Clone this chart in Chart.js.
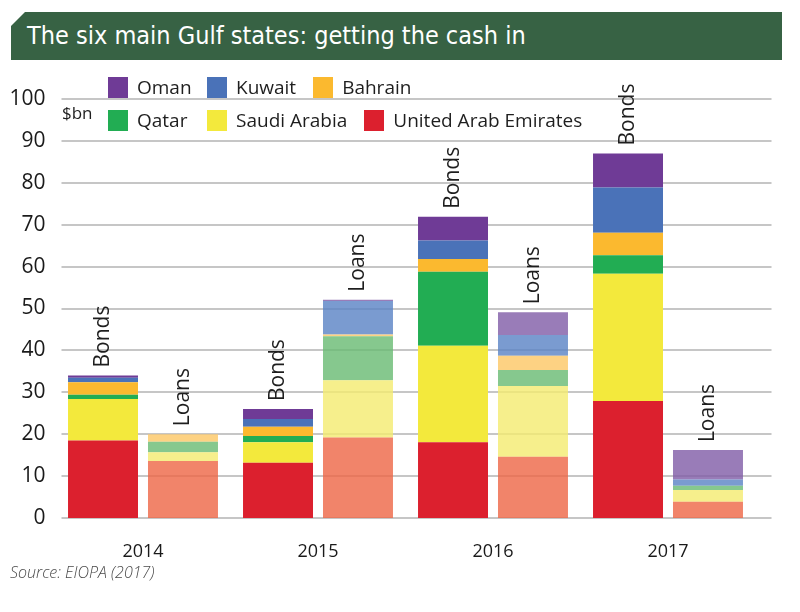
<!DOCTYPE html>
<html>
<head>
<meta charset="utf-8">
<script src="https://cdn.jsdelivr.net/npm/chart.js@4.4.1/dist/chart.umd.min.js"></script>
<style>
body { margin: 0; background: #fff; font-family: "Open Sans", sans-serif; }
#cadre { position: relative; width: 800px; height: 612px; overflow: hidden; }
#graphique { position: absolute; left: 0; top: 0; }
.titre {
    position: absolute; left: 11px; top: 12px; width: 771px; height: 48px;
    background: #376244; color: #fff; box-sizing: border-box; padding-left: 16px;
    clip-path: polygon(14px 0, 100% 0, 100% 100%, 0 100%, 0 14px);
    font-family: "Liberation Sans Narrow", "DejaVu Sans Condensed", sans-serif;
    font-size: 25px; line-height: 48px;
}
.unite { position: absolute; left: 62px; top: 101px; font-size: 17px; color: #1e1e1e; }
.legende { position: absolute; left: 108px; font-size: 19px; color: #1e1e1e; display: flex; }
.legende .item { display: flex; align-items: center; margin-right: 17px; }
.legende .item:first-child { width: 99px; margin-right: 0; }
.legende .carre { width: 20px; height: 21px; margin-right: 9px; }
.source { position: absolute; left: 10px; top: 561px; font-size: 16px; font-style: italic; color: #4a4a4a; font-weight: 300; }
</style>
</head>
<body>
<div id="cadre">
    <canvas id="graphique" width="800" height="612"></canvas>
    <div class="titre">The six main Gulf states: getting the cash in</div>
    <div class="unite">$bn</div>
    <div class="legende" id="ligne1" style="top:74px"></div>
    <div class="legende" id="ligne2" style="top:107px"></div>
    <div class="source">Source: EIOPA (2017)</div>
</div>
<script>
// du bas vers le haut de chaque barre
var annees = ['2014', '2015', '2016', '2017'];
var typesBarres = ['Bonds', 'Loans'];
var pays = ['United Arab Emirates', 'Saudi Arabia', 'Qatar', 'Bahrain', 'Kuwait', 'Oman'];

// $bn, obligations
var bondsEAU = [18.5, 13.2, 18.1, 27.9];
var bondsArabie = [9.9, 4.9, 23.0, 30.4];
var bondsQatar = [1.0, 1.5, 17.7, 4.4];
var bondsBahrein = [3.0, 2.2, 3.0, 5.4];
var bondsKoweit = [1.1, 1.8, 4.4, 10.8];
var bondsOman = [0.5, 2.4, 5.7, 8.1];

// $bn, prets
var loansEAU = [13.6, 19.2, 14.6, 3.9];
var loansArabie = [2.1, 13.7, 16.9, 2.8];
var loansQatar = [2.5, 10.5, 3.8, 1.0];
var loansBahrein = [1.8, 0.4, 3.4, 0];
var loansKoweit = [0, 8.0, 5.0, 1.5];
var loansOman = [0, 0.3, 5.4, 7.0];

var couleursBonds = ['#dc202e', '#f3e93c', '#22ad53', '#fbb92f', '#4a72b8', '#6f3b96'];
var couleursLoans = ['rgba(238,101,69,0.8)', 'rgba(244,235,111,0.8)', 'rgba(104,186,114,0.8)',
                     'rgba(252,199,100,0.8)', 'rgba(89,130,196,0.8)', 'rgba(128,91,166,0.8)'];

var donneesBonds = [bondsEAU, bondsArabie, bondsQatar, bondsBahrein, bondsKoweit, bondsOman];
var donneesLoans = [loansEAU, loansArabie, loansQatar, loansBahrein, loansKoweit, loansOman];

// legende : Oman, Kuwait, Bahrain / Qatar, Saudi Arabia, UAE
function ajouterLegende(idLigne, indices) {
    var ligne = document.getElementById(idLigne);
    indices.forEach(function (i) {
        var item = document.createElement('div');
        item.className = 'item';
        item.innerHTML = '<span class="carre" style="background:' + couleursBonds[i] + '"></span>' + pays[i];
        ligne.appendChild(item);
    });
}
ajouterLegende('ligne1', [5, 4, 3]);
ajouterLegende('ligne2', [2, 1, 0]);

var jeux = [];
typesBarres.forEach(function (type, k) {
    pays.forEach(function (p, i) {
        jeux.push({
            label: p + ' ' + type,
            stack: type,
            data: k === 0 ? donneesBonds[i] : donneesLoans[i],
            backgroundColor: k === 0 ? couleursBonds[i] : couleursLoans[i],
            categoryPercentage: 0.914,
            barPercentage: 0.875
        });
    });
});

var grilles = {
    id: 'grilles',
    beforeDatasetsDraw: function (chart) {
        var ctx = chart.ctx, y = chart.scales.y, a = chart.chartArea;
        ctx.save();
        ctx.strokeStyle = '#c6c6c6';
        ctx.lineWidth = 2;
        y.ticks.forEach(function (t) {
            var py = Math.round(y.getPixelForValue(t.value));
            ctx.beginPath();
            ctx.moveTo(a.left + 6, py);
            ctx.lineTo(a.right + 16, py);
            ctx.stroke();
        });
        ctx.restore();
    }
};

var etiquettes = {
    id: 'etiquettes',
    afterDatasetsDraw: function (chart) {
        var ctx = chart.ctx;
        ctx.save();
        ctx.font = '21px "Open Sans"';
        ctx.fillStyle = '#1e1e1e';
        ctx.textAlign = 'left';
        ctx.textBaseline = 'middle';
        typesBarres.forEach(function (type, k) {
            var meta = chart.getDatasetMeta(pays.length * k + pays.length - 1);
            meta.data.forEach(function (barre) {
                ctx.save();
                ctx.translate(barre.x, barre.y - 8);
                ctx.rotate(-Math.PI / 2);
                ctx.fillText(type, 0, 0);
                ctx.restore();
            });
        });
        ctx.restore();
    }
};

var ctx = document.getElementById('graphique').getContext('2d');
var graphique = new Chart(ctx, {
    type: 'bar',
    data: { labels: annees, datasets: jeux },
    options: {
        responsive: false,
        animation: false,
        layout: { padding: { top: 99, right: 44.5, bottom: 54, left: 0 } },
        plugins: { legend: { display: false }, tooltip: { enabled: false } },
        scales: {
            x: {
                stacked: true,
                grid: { display: false },
                border: { display: false },
                ticks: { color: '#1a1a1a', padding: 15, font: { family: 'Open Sans', size: 18 } },
                afterFit: function (s) { s.height = 40; }
            },
            y: {
                stacked: true,
                min: 0,
                max: 100,
                grid: { display: false },
                border: { display: false },
                ticks: { stepSize: 10, color: '#1a1a1a', padding: 2, font: { family: 'Open Sans', size: 21 } },
                afterFit: function (s) { s.width = 55.5; }
            }
        }
    },
    plugins: [grilles, etiquettes]
});
</script>
</body>
</html>
